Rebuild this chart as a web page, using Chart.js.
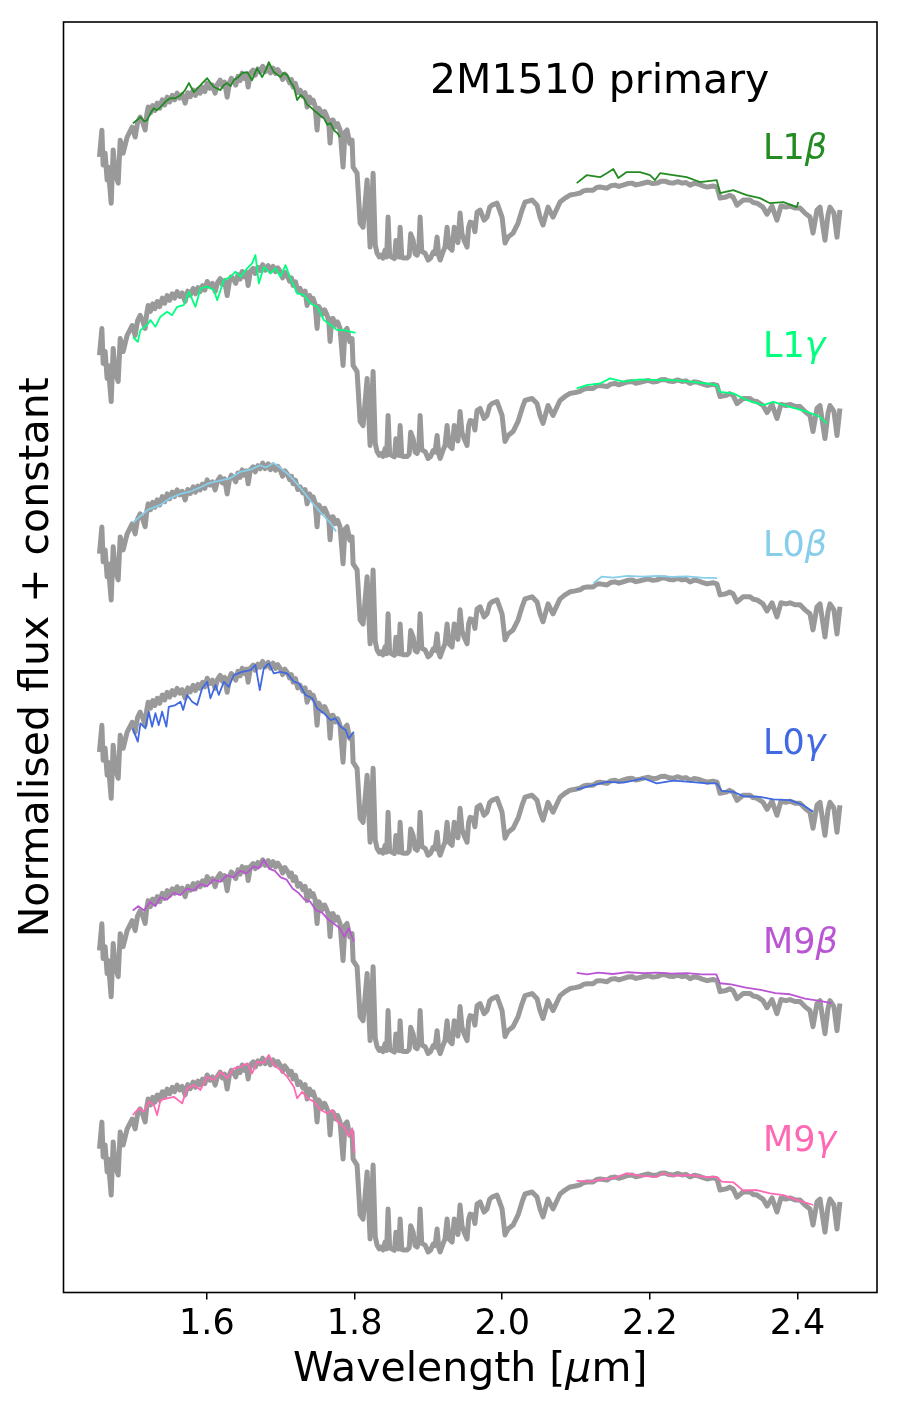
<!DOCTYPE html>
<html lang="en">
<head>
<meta charset="UTF-8">
<title>2M1510 primary</title>
<script src="https://cdn.jsdelivr.net/npm/chart.js"></script>
<style>
  html, body { margin: 0; padding: 0; background: #fff; }
  #wrap { width: 900px; height: 1411px; }
</style>
</head>
<body>
<div id="wrap"><canvas id="spec"></canvas></div>
<script>
// [wavelength (um), normalised flux]
const primary = [
  [1.4544,0.579],[1.4577,0.700],[1.4594,0.542],[1.4621,0.596],[1.4648,0.474],[1.4662,0.533],[1.4703,0.369],[1.4730,0.610],
  [1.4757,0.505],[1.4798,0.460],[1.4825,0.655],[1.4865,0.596],[1.4919,0.669],[1.4987,0.714],[1.5028,0.669],[1.5060,0.735],
  [1.5095,0.760],[1.5130,0.735],[1.5163,0.701],[1.5185,0.770],[1.5204,0.805],[1.5235,0.778],[1.5265,0.812],[1.5295,0.790],
  [1.5326,0.823],[1.5360,0.800],[1.5395,0.838],[1.5428,0.815],[1.5461,0.850],[1.5495,0.828],[1.5530,0.858],[1.5562,0.838],
  [1.5596,0.868],[1.5630,0.846],[1.5665,0.862],[1.5705,0.823],[1.5740,0.870],[1.5775,0.852],[1.5813,0.882],[1.5845,0.858],
  [1.5878,0.886],[1.5908,0.868],[1.5940,0.895],[1.5972,0.875],[1.6003,0.914],[1.6040,0.890],[1.6075,0.905],[1.6111,0.868],
  [1.6145,0.910],[1.6179,0.927],[1.6210,0.900],[1.6240,0.918],[1.6274,0.850],[1.6305,0.915],[1.6330,0.935],[1.6355,0.927],
  [1.6390,0.905],[1.6420,0.945],[1.6450,0.925],[1.6477,0.959],[1.6510,0.935],[1.6535,0.955],[1.6558,0.896],[1.6590,0.960],
  [1.6626,0.973],[1.6655,0.950],[1.6690,0.978],[1.6721,0.964],[1.6755,0.990],[1.6790,0.965],[1.6830,0.986],[1.6860,0.960],
  [1.6897,0.982],[1.6930,0.958],[1.6960,0.975],[1.6992,0.959],[1.7025,0.930],[1.7055,0.955],[1.7086,0.941],[1.7120,0.915],
  [1.7145,0.930],[1.7167,0.896],[1.7200,0.912],[1.7230,0.870],[1.7262,0.882],[1.7300,0.855],[1.7330,0.870],[1.7357,0.805],
  [1.7390,0.850],[1.7415,0.825],[1.7438,0.837],[1.7465,0.810],[1.7492,0.701],[1.7515,0.800],[1.7533,0.791],[1.7565,0.765],
  [1.7595,0.785],[1.7628,0.760],[1.7650,0.735],[1.7668,0.642],[1.7690,0.745],[1.7709,0.746],[1.7740,0.715],[1.7770,0.730],
  [1.7803,0.701],[1.7844,0.533],[1.7870,0.690],[1.7898,0.701],[1.7935,0.640],[1.7966,0.655],[1.7980,0.533],[1.8034,0.505],
  [1.8075,0.279],[1.8115,0.260],[1.8170,0.474],[1.8210,0.170],[1.8251,0.505],[1.8280,0.180],[1.8305,0.142],[1.8335,0.125],
  [1.8359,0.133],[1.8385,0.120],[1.8413,0.156],[1.8435,0.125],[1.8454,0.306],[1.8475,0.130],[1.8508,0.124],[1.8540,0.118],
  [1.8560,0.200],[1.8576,0.133],[1.8600,0.125],[1.8617,0.260],[1.8640,0.122],[1.8671,0.120],[1.8712,0.120],[1.8740,0.130],
  [1.8760,0.230],[1.8793,0.201],[1.8820,0.140],[1.8847,0.133],[1.8870,0.160],[1.8888,0.306],[1.8910,0.150],[1.8956,0.142],
  [1.8996,0.111],[1.9030,0.120],[1.9064,0.147],[1.9090,0.140],[1.9118,0.215],[1.9140,0.130],[1.9159,0.111],[1.9200,0.150],
  [1.9225,0.170],[1.9253,0.260],[1.9280,0.170],[1.9321,0.156],[1.9350,0.260],[1.9375,0.238],[1.9400,0.190],[1.9429,0.324],
  [1.9455,0.230],[1.9483,0.201],[1.9524,0.170],[1.9545,0.260],[1.9565,0.283],[1.9605,0.279],[1.9630,0.240],[1.9659,0.328],
  [1.9700,0.338],[1.9754,0.292],[1.9795,0.306],[1.9830,0.350],[1.9862,0.360],[1.9930,0.369],[1.9998,0.306],[2.0038,0.188],
  [2.0079,0.215],[2.0147,0.233],[2.0215,0.279],[2.0269,0.338],[2.0309,0.374],[2.0404,0.383],[2.0472,0.360],[2.0512,0.306],
  [2.0553,0.270],[2.0621,0.351],[2.0688,0.306],[2.0783,0.374],[2.0851,0.392],[2.0919,0.406],[2.0990,0.410],[2.1054,0.415],
  [2.1100,0.425],[2.1149,0.428],[2.1230,0.428],[2.1280,0.440],[2.1325,0.442],[2.1420,0.437],[2.1470,0.448],[2.1528,0.451],
  [2.1580,0.445],[2.1636,0.451],[2.1700,0.458],[2.1758,0.460],[2.1810,0.452],[2.1867,0.456],[2.1975,0.465],[2.2040,0.458],
  [2.2097,0.460],[2.2150,0.468],[2.2205,0.469],[2.2260,0.462],[2.2314,0.460],[2.2380,0.467],[2.2436,0.460],[2.2490,0.463],
  [2.2544,0.451],[2.2600,0.459],[2.2652,0.456],[2.2710,0.449],[2.2774,0.442],[2.2856,0.447],[2.2910,0.442],[2.2951,0.392],
  [2.3032,0.397],[2.3080,0.405],[2.3127,0.397],[2.3181,0.360],[2.3262,0.383],[2.3357,0.383],[2.3400,0.372],[2.3452,0.369],
  [2.3533,0.351],[2.3587,0.319],[2.3655,0.356],[2.3722,0.292],[2.3776,0.356],[2.3844,0.351],[2.3898,0.356],[2.3966,0.347],
  [2.4034,0.347],[2.4101,0.324],[2.4169,0.306],[2.4210,0.233],[2.4264,0.338],[2.4305,0.351],[2.4372,0.201],[2.4413,0.315],
  [2.4440,0.351],[2.4494,0.324],[2.4535,0.215],[2.4575,0.338]
];

const l1bH = [[1.4996,0.731],[1.5050,0.745],[1.5100,0.760],[1.5150,0.740],[1.5190,0.746],[1.5240,0.780],[1.5280,0.800],[1.5320,0.790],
  [1.5370,0.805],[1.5440,0.830],[1.5506,0.846],[1.5570,0.845],[1.5642,0.859],[1.5700,0.880],[1.5755,0.914],[1.5822,0.873],
  [1.5913,0.905],[1.6003,0.936],[1.6050,0.915],[1.6094,0.896],[1.6184,0.882],[1.6230,0.905],[1.6274,0.914],[1.6320,0.900],
  [1.6364,0.927],[1.6420,0.940],[1.6477,0.959],[1.6545,0.964],[1.6612,0.927],[1.6680,0.982],[1.6748,0.941],[1.6800,0.975],
  [1.6838,1.009],[1.6906,0.964],[1.6996,0.941],[1.7040,0.960],[1.7087,0.950],[1.7130,0.920],[1.7177,0.896],[1.7222,0.837],
  [1.7270,0.860],[1.7313,0.846],[1.7360,0.815],[1.7403,0.805],[1.7450,0.790],[1.7494,0.778],[1.7540,0.765],[1.7584,0.755],
  [1.7630,0.725],[1.7674,0.732],[1.7720,0.700],[1.7765,0.687],[1.7801,0.669]];
const l1bK = [[2.1009,0.460],[2.1144,0.496],[2.1325,0.487],[2.1416,0.505],[2.1505,0.524],[2.1573,0.483],[2.1686,0.510],[2.1867,0.510],
  [2.2002,0.496],[2.2070,0.474],[2.2138,0.505],[2.2318,0.496],[2.2499,0.487],[2.2679,0.465],[2.2905,0.474],[2.2950,0.415],
  [2.3130,0.428],[2.3312,0.406],[2.3492,0.392],[2.3627,0.369],[2.3808,0.374],[2.3989,0.351],[2.4011,0.374]];

const l1gH = [[1.4996,0.663],[1.5063,0.640],[1.5100,0.693],[1.5190,0.716],[1.5235,0.739],[1.5302,0.708],[1.5370,0.754],[1.5461,0.776],
  [1.5529,0.761],[1.5597,0.799],[1.5687,0.807],[1.5755,0.867],[1.5845,0.799],[1.5913,0.882],[1.6003,0.890],[1.6094,0.875],
  [1.6139,0.829],[1.6229,0.920],[1.6319,0.935],[1.6386,0.958],[1.6454,0.935],[1.6545,0.973],[1.6612,0.996],[1.6657,1.034],
  [1.6703,0.905],[1.6770,0.980],[1.6861,0.951],[1.6929,0.973],[1.6996,0.935],[1.7064,0.988],[1.7132,0.928],[1.7222,0.860],
  [1.7313,0.852],[1.7403,0.814],[1.7494,0.799],[1.7584,0.739],[1.7674,0.716],[1.7765,0.693],[1.7855,0.693],[1.8013,0.681]];
const l1gK = [[2.1009,0.429],[2.1144,0.444],[2.1325,0.451],[2.1461,0.474],[2.1641,0.459],[2.1867,0.470],[2.2093,0.466],[2.2318,0.466],
  [2.2544,0.459],[2.2770,0.451],[2.2905,0.444],[2.2950,0.413],[2.3130,0.406],[2.3312,0.376],[2.3537,0.353],[2.3672,0.368],
  [2.3898,0.345],[2.4124,0.323],[2.4304,0.300],[2.4395,0.270]];

const l0bH = [[1.4996,0.720],[1.5100,0.750],[1.5210,0.780],[1.5370,0.800],[1.5500,0.830],[1.5640,0.850],[1.5770,0.860],[1.5910,0.880],
  [1.6040,0.900],[1.6180,0.910],[1.6310,0.920],[1.6450,0.950],[1.6590,0.960],[1.6720,0.980],[1.6800,0.970],[1.6900,0.990],
  [1.6990,0.970],[1.7130,0.930],[1.7260,0.880],[1.7400,0.820],[1.7530,0.770],[1.7670,0.720],[1.7750,0.680]];
const l0bK = [[2.1236,0.445],[2.1350,0.475],[2.1500,0.470],[2.1700,0.478],[2.1900,0.475],[2.2100,0.478],[2.2300,0.474],
  [2.2500,0.476],[2.2700,0.470],[2.2910,0.468]];

const l0gH = [[1.4996,0.686],[1.5063,0.626],[1.5100,0.709],[1.5167,0.686],[1.5212,0.762],[1.5257,0.694],[1.5302,0.755],[1.5347,0.701],
  [1.5393,0.762],[1.5451,0.694],[1.5483,0.784],[1.5574,0.792],[1.5642,0.807],[1.5678,0.770],[1.5732,0.838],[1.5800,0.807],
  [1.5868,0.792],[1.5936,0.868],[1.6003,0.898],[1.6048,0.823],[1.6116,0.883],[1.6161,0.838],[1.6229,0.898],[1.6296,0.875],
  [1.6364,0.928],[1.6477,0.943],[1.6590,0.951],[1.6657,0.974],[1.6716,0.860],[1.6770,0.959],[1.6838,0.981],[1.6906,0.936],
  [1.6996,0.943],[1.7087,0.936],[1.7177,0.898],[1.7245,0.891],[1.7335,0.838],[1.7426,0.823],[1.7494,0.777],[1.7584,0.755],
  [1.7674,0.724],[1.7742,0.732],[1.7810,0.694],[1.7878,0.679],[1.7923,0.641],[1.7990,0.671]];
const l0gK = [[2.1009,0.410],[2.1234,0.429],[2.1416,0.444],[2.1641,0.440],[2.1776,0.449],[2.1912,0.460],[2.2093,0.437],[2.2318,0.449],
  [2.2544,0.444],[2.2770,0.437],[2.2905,0.437],[2.2973,0.403],[2.3130,0.398],[2.3266,0.379],[2.3492,0.376],[2.3672,0.364],
  [2.3898,0.361],[2.4078,0.338],[2.4214,0.308]];

const m9bH = [[1.4996,0.760],[1.5070,0.780],[1.5150,0.760],[1.5230,0.800],[1.5300,0.780],[1.5370,0.820],[1.5460,0.810],[1.5550,0.840],
  [1.5640,0.830],[1.5730,0.860],[1.5820,0.850],[1.5910,0.880],[1.6000,0.870],[1.6090,0.900],[1.6180,0.890],[1.6270,0.920],
  [1.6360,0.910],[1.6450,0.940],[1.6540,0.930],[1.6630,0.960],[1.6700,0.950],[1.6770,0.990],[1.6840,0.950],[1.6920,0.940],
  [1.7000,0.910],[1.7080,0.900],[1.7160,0.860],[1.7240,0.840],[1.7320,0.810],[1.7400,0.800],[1.7480,0.760],[1.7560,0.750],
  [1.7640,0.720],[1.7720,0.700],[1.7800,0.680],[1.7860,0.640],[1.7920,0.680],[1.7990,0.620]];
const m9bK = [[2.1009,0.477],[2.1150,0.470],[2.1300,0.478],[2.1500,0.472],[2.1700,0.480],[2.1900,0.476],[2.2100,0.478],[2.2300,0.474],
  [2.2500,0.476],[2.2700,0.470],[2.2900,0.470],[2.2950,0.430],[2.3100,0.425],[2.3300,0.410],[2.3500,0.400],[2.3700,0.385],
  [2.3900,0.380],[2.4100,0.360],[2.4300,0.350],[2.4460,0.340]];

const m9gH = [[1.4996,0.732],[1.5077,0.763],[1.5145,0.747],[1.5212,0.793],[1.5280,0.778],[1.5325,0.732],[1.5370,0.800],[1.5461,0.808],
  [1.5551,0.815],[1.5664,0.785],[1.5732,0.853],[1.5822,0.868],[1.5913,0.846],[1.6003,0.906],[1.6094,0.891],[1.6184,0.929],
  [1.6274,0.899],[1.6364,0.944],[1.6454,0.951],[1.6545,0.967],[1.6612,0.921],[1.6680,0.974],[1.6770,0.967],[1.6838,1.005],
  [1.6906,0.959],[1.6996,0.936],[1.7087,0.906],[1.7177,0.861],[1.7222,0.808],[1.7290,0.838],[1.7358,0.808],[1.7448,0.793],
  [1.7539,0.755],[1.7629,0.740],[1.7697,0.755],[1.7765,0.702],[1.7855,0.679],[1.7923,0.634],[1.7968,0.672],[1.7999,0.559]];
const m9gK = [[2.1009,0.433],[2.1190,0.430],[2.1370,0.441],[2.1505,0.445],[2.1686,0.468],[2.1867,0.456],[2.2093,0.452],[2.2182,0.468],
  [2.2318,0.456],[2.2544,0.460],[2.2770,0.450],[2.2905,0.452],[2.2973,0.430],[2.3130,0.427],[2.3266,0.389],[2.3447,0.392],
  [2.3627,0.377],[2.3808,0.369],[2.3989,0.347],[2.4214,0.324]];

const templates = ['L1β', 'L1γ', 'L0β', 'L0γ', 'M9β', 'M9γ'];
const offsets = [4.5, 3.6, 2.7, 1.8, 0.9, 0.0];
const hBand = [l1bH, l1gH, l0bH, l0gH, m9bH, m9gH];
const kBand = [l1bK, l1gK, l0bK, l0gK, m9bK, m9gK];
const xTicks = [1.6, 1.8, 2.0, 2.2, 2.4];

const colors = ['#228b22', '#00ff7f', '#87ceeb', '#4169e1', '#ba55d3', '#ff69b4'];
const labelWave = 2.3533, labelFlux = 0.569;
const FONT = '"DejaVu Sans", Verdana, sans-serif';

const toPoints = (pairs, off) => pairs.map(([w, f]) => ({ x: w, y: f + off }));

const datasets = [];
offsets.forEach((off, i) => {
    datasets.push({ data: toPoints(primary, off), borderColor: '#999999', borderWidth: 5, order: 1 });
    datasets.push({ data: toPoints(hBand[i], off), borderColor: colors[i], borderWidth: 1.8, order: 0 });
    datasets.push({ data: toPoints(kBand[i], off), borderColor: colors[i], borderWidth: 1.8, order: 0 });
});

// draws the frame and all the free text
const decor = {
    id: 'decor',
    afterDraw(chart) {
        const { ctx, chartArea: a, scales: { x, y } } = chart;
        ctx.save();
        ctx.strokeStyle = '#000';
        ctx.lineWidth = 1.6;
        ctx.strokeRect(a.left, a.top, a.right - a.left, a.bottom - a.top);

        ctx.fillStyle = '#000';
        ctx.textBaseline = 'alphabetic';
        ctx.textAlign = 'left';
        ctx.font = `41px ${FONT}`;
        ctx.fillText('2M1510 primary', 430, 93);

        templates.forEach((name, i) => {
            const px = x.getPixelForValue(labelWave);
            const py = y.getPixelForValue(offsets[i] + labelFlux);
            const head = name.slice(0, -1), greek = name.slice(-1);
            ctx.fillStyle = colors[i];
            ctx.font = `35px ${FONT}`;
            ctx.fillText(head, px, py);
            const w = ctx.measureText(head).width;
            ctx.font = `italic 35px ${FONT}`;
            ctx.fillText(greek, px + w, py);
        });

        // x label with italic mu
        ctx.fillStyle = '#000';
        const parts = [['Wavelength [', ''], ['μ', 'italic '], ['m]', '']];
        let total = 0;
        parts.forEach(([t, s]) => { ctx.font = `${s}41px ${FONT}`; total += ctx.measureText(t).width; });
        let cx = (a.left + a.right) / 2 - total / 2;
        parts.forEach(([t, s]) => {
            ctx.font = `${s}41px ${FONT}`;
            ctx.fillText(t, cx, 1381);
            cx += ctx.measureText(t).width;
        });

        ctx.translate(48, (a.top + a.bottom) / 2);
        ctx.rotate(-Math.PI / 2);
        ctx.textAlign = 'center';
        ctx.font = `41px ${FONT}`;
        ctx.fillText('Normalised flux + constant', 0, 0);
        ctx.restore();
    }
};

new Chart(document.getElementById('spec'), {
    type: 'line',
    data: { datasets },
    options: {
        responsive: true,
        maintainAspectRatio: false,
        animation: false,
        events: [],
        elements: {
            point: { radius: 0 },
            line: { tension: 0, fill: false, borderJoinStyle: 'round' },
        },
        layout: { padding: { top: 22, left: 63.5, right: 23, bottom: 0 } },
        plugins: { legend: { display: false }, tooltip: { enabled: false } },
        scales: {
            x: {
                type: 'linear',
                min: 1.4057,
                max: 2.5077,
                afterBuildTicks: s => { s.ticks = xTicks.map(v => ({ value: v })); },
                afterFit: s => { s.height = 118.5; },
                grid: { display: true, drawOnChartArea: false, drawTicks: true, tickLength: 7, color: '#000', lineWidth: 1.5 },
                border: { display: false },
                ticks: {
                    color: '#000',
                    font: { family: FONT, size: 35 },
                    padding: 4,
                    maxRotation: 0,
                    callback: v => v.toFixed(1),
                },
            },
            y: { display: false, min: -0.073, max: 5.691 },
        },
    },
    plugins: [decor],
});
</script>
</body>
</html>
